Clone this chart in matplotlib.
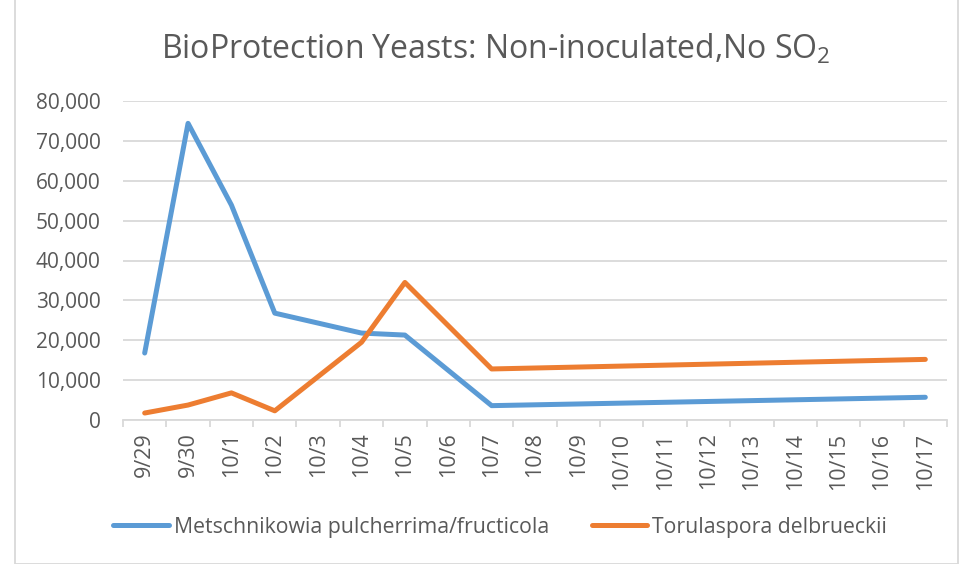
import numpy as np
import matplotlib
matplotlib.use("Agg")
import matplotlib.pyplot as plt
from matplotlib.patches import Rectangle

plt.rcParams['font.family'] = ['Open Sans', 'DejaVu Sans']
plt.rcParams['mathtext.fontset'] = 'custom'
plt.rcParams['mathtext.rm'] = 'Open Sans'
plt.rcParams['mathtext.it'] = 'Open Sans'

# data (nan = no sample that day)
dates = ['9/29', '9/30', '10/1', '10/2', '10/3', '10/4', '10/5', '10/6', '10/7', '10/8',
         '10/9', '10/10', '10/11', '10/12', '10/13', '10/14', '10/15', '10/16', '10/17']
nan = np.nan
metschnikowia = [16800, 74400, 53900, 26800, nan, 21800, 21300, nan, 3600, nan,
                 nan, nan, nan, nan, nan, nan, nan, nan, 5700]
torulaspora = [1750, 3750, 6800, 2300, nan, 19500, 34500, nan, 12800, nan,
               nan, nan, nan, nan, nan, nan, nan, nan, 15200]
yticks = [0, 10000, 20000, 30000, 40000, 50000, 60000, 70000, 80000]

text_col = '#595959'
grid_col = '#d9d9d9'

fig = plt.figure(figsize=(9.62, 5.64), dpi=100)
ax = fig.add_axes([123/962, 1 - 420/564, (947 - 123)/962, (420 - 101)/564])

x = np.arange(len(dates))
series = [(metschnikowia, '#5b9bd5', 'Metschnikowia pulcherrima/fructicola'),
          (torulaspora, '#ed7d31', 'Torulaspora delbrueckii')]
for vals, col, name in series:
    y = np.array(vals, dtype=float)
    ok = ~np.isnan(y)
    ax.plot(x[ok], y[ok], color=col, lw=3.6, label=name,
            solid_capstyle='round', solid_joinstyle='round', zorder=3)

ax.set_xlim(-0.5, len(dates) - 0.5)
ax.set_ylim(0, 80000)
ax.set_yticks(yticks)
ax.set_yticklabels([f'{v:,}' for v in yticks])
ax.yaxis.grid(True, color=grid_col, lw=1.3)
ax.set_axisbelow(True)

ax.set_xticks(x)
ax.set_xticklabels(dates, rotation=90)
ax.set_xticks(np.arange(-0.5, len(dates)), minor=True)
ax.tick_params(axis='x', which='major', length=0, pad=9, labelsize=15.5, labelcolor=text_col)
ax.tick_params(axis='x', which='minor', length=5, width=1.3, color=grid_col)
ax.tick_params(axis='y', length=0, pad=16, labelsize=15, labelcolor=text_col)

for s in ['top', 'right', 'left']:
    ax.spines[s].set_visible(False)
ax.spines['bottom'].set_color(grid_col)
ax.spines['bottom'].set_linewidth(1.3)

fig.text(0.515, 0.913, 'BioProtection Yeasts: Non-inoculated,No SO$_2$',
         ha='center', va='center', fontsize=23, color=text_col)

leg = fig.legend(loc='center', bbox_to_anchor=(0.52, 1 - 527/564), ncol=2, frameon=False,
                 fontsize=15.3, handlelength=2.6, handletextpad=0.25, columnspacing=2.0)
for t in leg.get_texts():
    t.set_color(text_col)

fig.patches.append(Rectangle((15/962, 0.5/564), (958 - 15)/962, 1.2, transform=fig.transFigure,
                             fill=False, edgecolor=grid_col, lw=1.3))

fig.savefig('out.png', dpi=100)
